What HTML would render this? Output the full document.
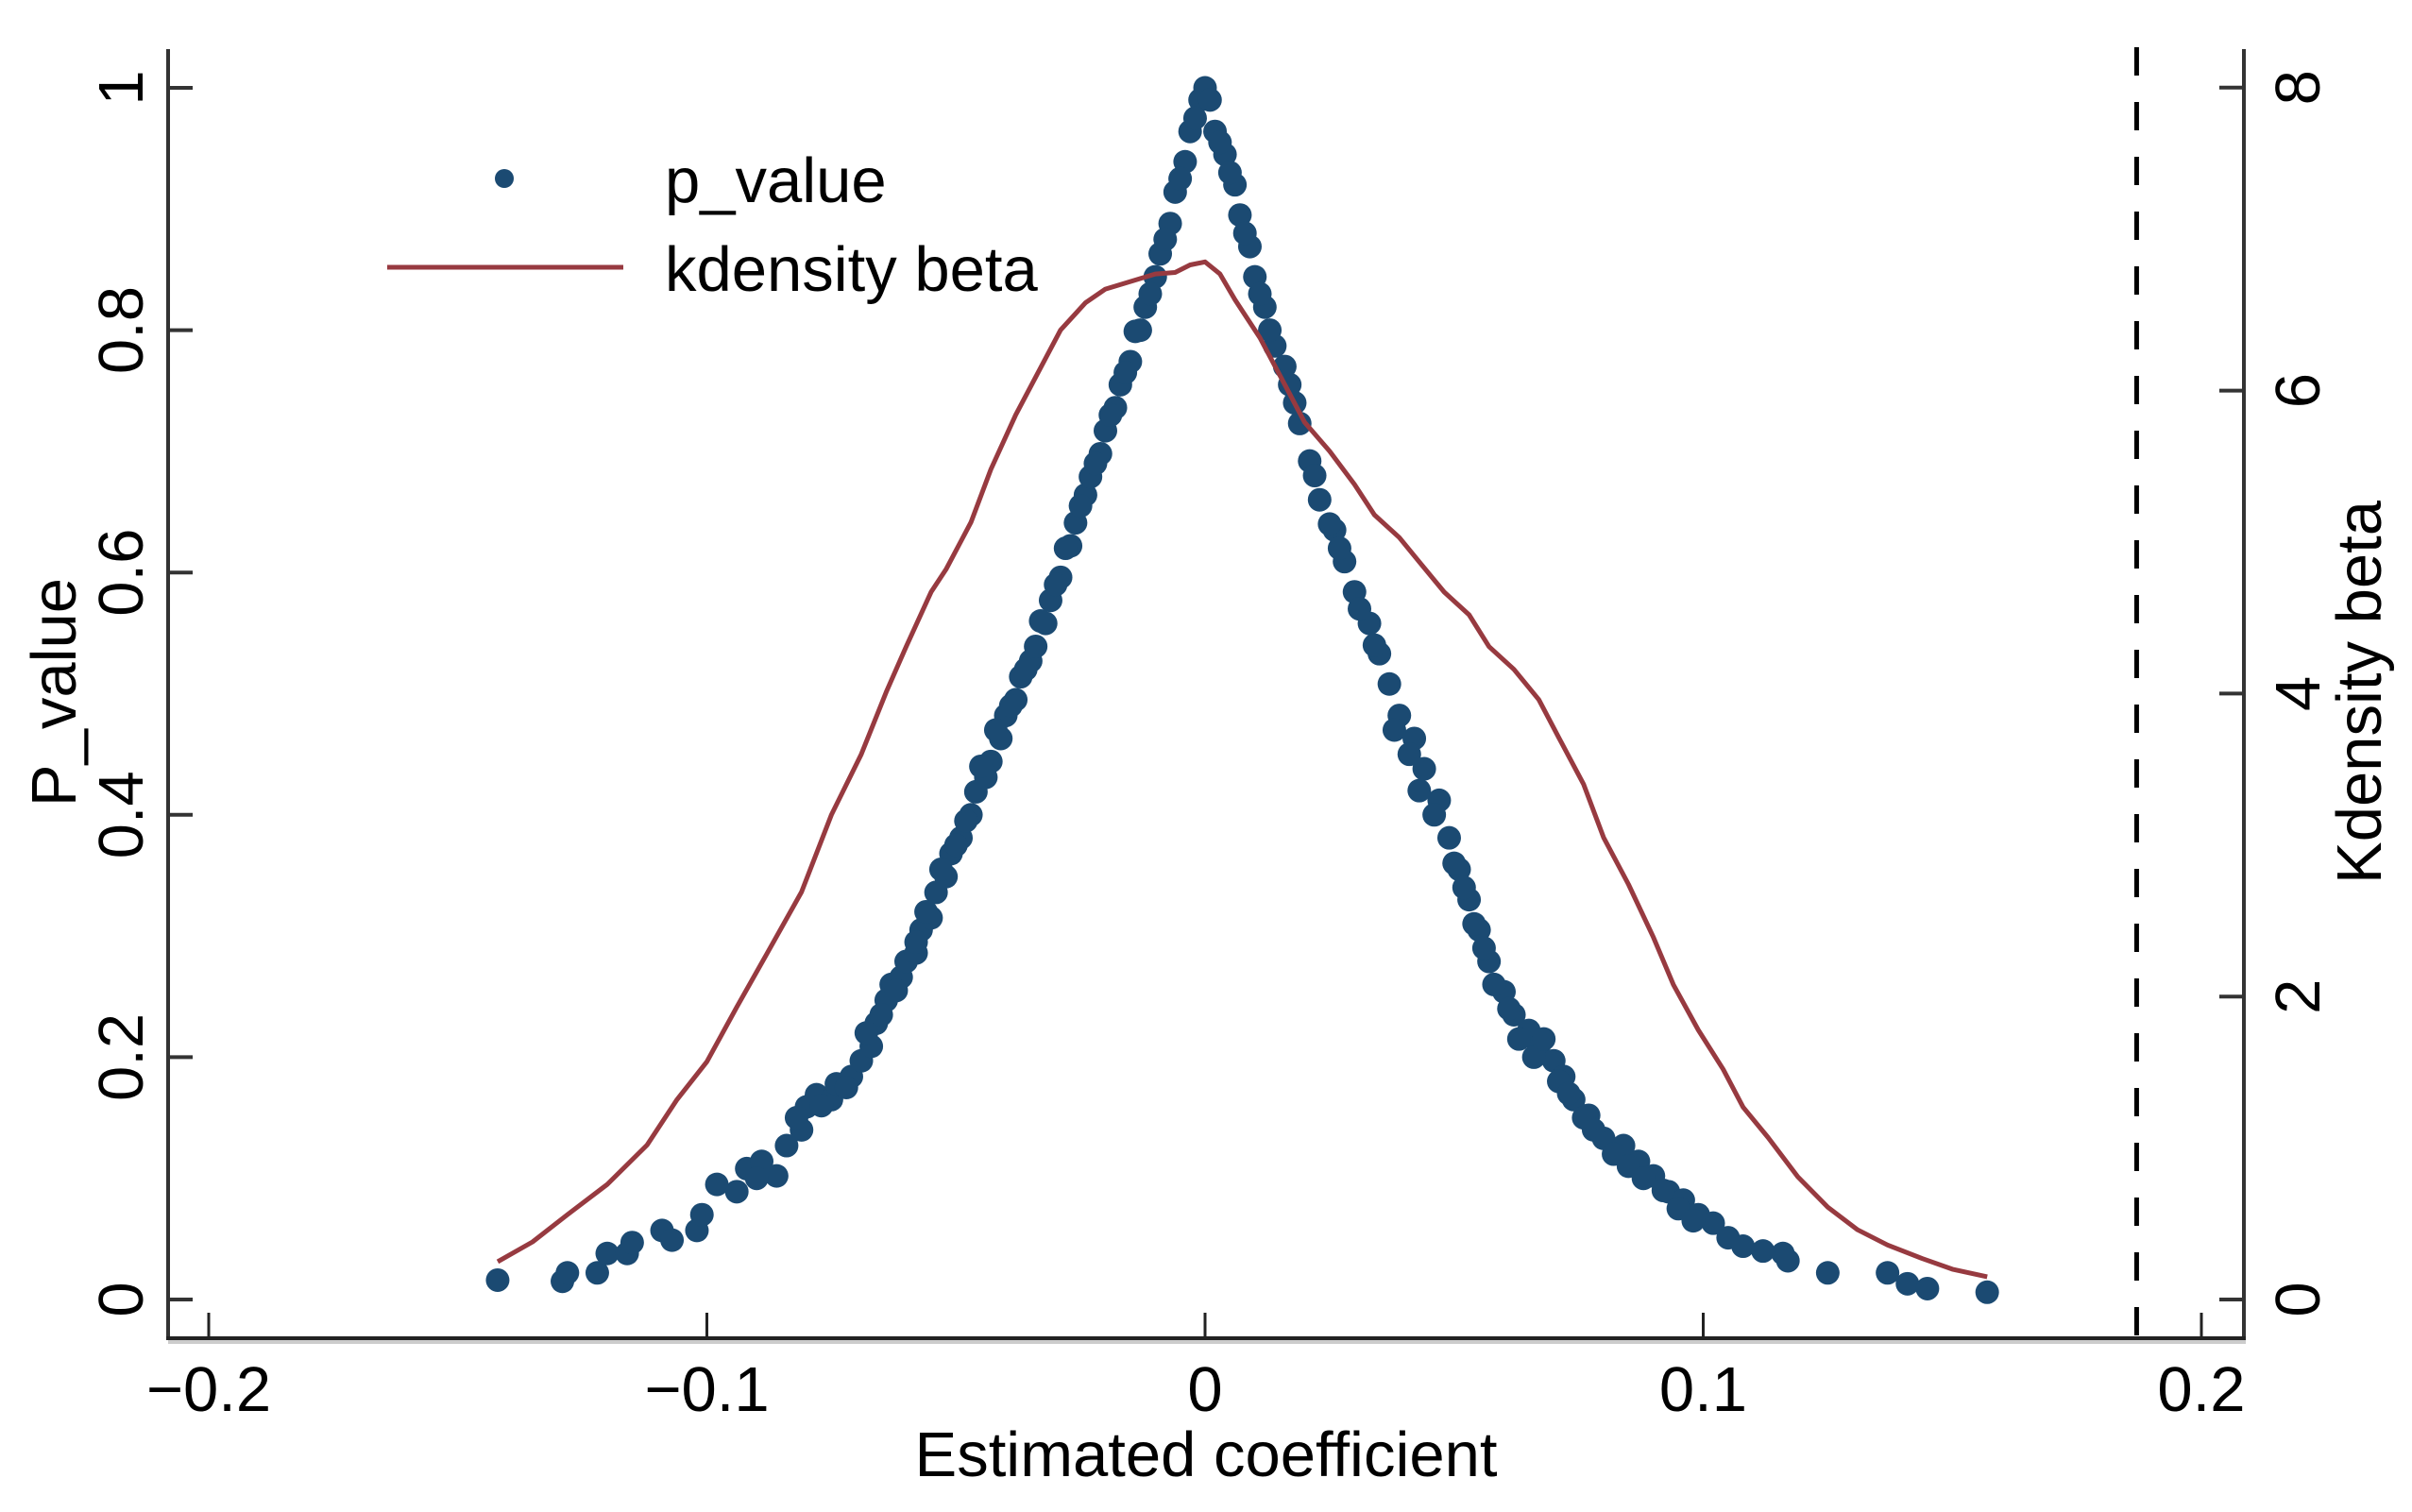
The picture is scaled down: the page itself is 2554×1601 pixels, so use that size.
<!DOCTYPE html>
<html><head><meta charset="utf-8"><style>
html,body{margin:0;padding:0;background:#fff;}
svg{display:block;font-family:"Liberation Sans",Arial,sans-serif;}
</style></head><body>
<svg id="chart" width="2554" height="1601" viewBox="0 0 2554 1601">
<g id="plot"></g>
</svg>
<script>
const xTicks=[-0.2,-0.1,0,0.1,0.2];
const xTickLabels=["\u22120.2","\u22120.1","0","0.1","0.2"];
const pTicks=[0,0.2,0.4,0.6,0.8,1];
const pTickLabels=["0","0.2","0.4","0.6","0.8","1"];
const dTicks=[0,2,4,6,8];
const dTickLabels=["0","2","4","6","8"];
const refLine=0.187;
const scatterX=[-0.142,-0.129,-0.128,-0.122,-0.120,-0.116,-0.115,-0.109,-0.107,-0.102,-0.101,-0.098,-0.094,-0.092,-0.089,-0.086,-0.084,-0.081,-0.080,-0.078,-0.075,-0.074,-0.071,-0.069,-0.067,-0.066,-0.064,-0.063,-0.061,-0.060,-0.058,-0.057,-0.055,-0.054,-0.052,-0.051,-0.049,-0.047,-0.046,-0.044,-0.043,-0.041,-0.040,-0.038,-0.037,-0.035,-0.034,-0.032,-0.031,-0.029,-0.027,-0.026,-0.024,-0.023,-0.021,-0.020,-0.018,-0.017,-0.015,-0.014,-0.012,-0.010,-0.009,-0.007,-0.006,-0.004,-0.003,-0.001,0.000,
0.001,0.002,0.004,0.006,0.007,0.009,0.010,0.012,0.014,0.017,0.019,0.021,0.023,0.026,0.028,0.030,0.033,0.035,0.037,0.039,0.042,0.044,0.047,0.049,0.051,0.053,0.055,0.057,0.060,0.062,0.065,0.067,0.070,0.072,0.074,0.077,0.080,0.084,0.087,0.090,0.093,0.096,0.099,0.102,0.105,0.108,0.116,0.117,0.125,0.137,0.141,0.145,0.157,
-0.090,-0.082,-0.077,-0.072,-0.068,-0.065,-0.062,-0.058,-0.056,-0.053,-0.050,-0.048,-0.045,-0.042,-0.039,-0.036,-0.033,-0.030,-0.028,-0.025,-0.022,-0.019,-0.016,-0.013,-0.011,-0.008,-0.005,-0.002,
0.003,0.005,0.008,0.011,0.013,0.016,0.018,0.022,0.025,0.027,0.031,0.034,0.038,0.041,0.043,0.046,0.050,0.052,0.054,0.056,0.058,0.061,0.063,0.066,0.068,0.071,0.073,0.076,0.078,0.082,0.085,0.088,0.092,0.095,0.098,0.112];
const scatterP=[0.016,0.015,0.022,0.022,0.038,0.038,0.047,0.057,0.049,0.057,0.070,0.095,0.089,0.108,0.114,0.102,0.127,0.140,0.159,0.169,0.165,0.178,0.184,0.197,0.209,0.228,0.247,0.260,0.266,0.279,0.286,0.305,0.315,0.336,0.349,0.368,0.381,0.400,0.419,0.431,0.444,0.463,0.482,0.495,0.514,0.527,0.539,0.558,0.577,0.596,0.622,0.641,0.664,0.679,0.698,0.717,0.736,0.755,0.774,0.799,0.819,0.844,0.863,0.888,0.914,0.939,0.964,0.990,1.000,
0.990,0.964,0.945,0.920,0.895,0.869,0.844,0.819,0.787,0.755,0.723,0.692,0.660,0.635,0.609,0.584,0.558,0.533,0.508,0.482,0.463,0.438,0.412,0.381,0.355,0.330,0.305,0.279,0.254,0.235,0.222,0.209,0.197,0.184,0.165,0.152,0.133,0.127,0.114,0.102,0.089,0.082,0.070,0.063,0.051,0.044,0.038,0.032,0.022,0.022,0.013,0.009,0.006,
0.100,0.150,0.160,0.175,0.220,0.235,0.255,0.295,0.320,0.355,0.375,0.395,0.440,0.470,0.490,0.520,0.560,0.590,0.620,0.655,0.690,0.730,0.765,0.800,0.830,0.875,0.925,0.975,
0.955,0.930,0.880,0.830,0.800,0.770,0.740,0.680,0.640,0.620,0.570,0.540,0.470,0.450,0.420,0.400,0.360,0.340,0.310,0.290,0.260,0.240,0.215,0.200,0.215,0.180,0.170,0.150,0.140,0.120,0.110,0.100,0.090,0.075,0.065,0.040];
const kdX=[-0.142,-0.135,-0.128,-0.120,-0.112,-0.106,-0.100,-0.094,-0.088,-0.081,-0.075,-0.069,-0.064,-0.060,-0.055,-0.052,-0.047,-0.043,-0.038,-0.034,-0.029,-0.024,-0.020,-0.015,-0.010,-0.006,-0.003,0,0.003,0.006,0.011,0.016,0.020,0.025,0.030,0.034,0.039,0.043,0.048,0.053,0.057,0.062,0.067,0.071,0.076,0.080,0.085,0.090,0.094,0.099,0.104,0.108,0.113,0.119,0.125,0.131,0.137,0.144,0.150,0.157];
const kdY=[0.25,0.38,0.56,0.76,1.02,1.32,1.57,1.93,2.28,2.69,3.20,3.60,4.01,4.31,4.67,4.82,5.13,5.48,5.84,6.09,6.40,6.58,6.67,6.72,6.77,6.78,6.83,6.85,6.77,6.60,6.35,6.04,5.79,5.60,5.38,5.18,5.03,4.87,4.67,4.52,4.31,4.16,3.96,3.71,3.40,3.05,2.74,2.39,2.08,1.78,1.52,1.27,1.07,0.81,0.61,0.46,0.36,0.27,0.20,0.15];

const X=c=>1276+c*5275;
const YP=p=>1376-p*1283;
const YD=d=>1376-d*160.4;
const NS="http://www.w3.org/2000/svg";
const g=document.getElementById('plot');
function mk(tag,attrs,parent){const e=document.createElementNS(NS,tag);for(const k in attrs)e.setAttribute(k,attrs[k]);(parent||g).appendChild(e);return e;}
const FS=67;
let e;
e=mk('line',{x1:178,y1:52,x2:178,y2:1419,stroke:'#333',"stroke-width":4});


e=mk('line',{x1:2376,y1:52,x2:2376,y2:1419,stroke:'#333',"stroke-width":4});


e=mk('line',{x1:178,y1:1421,x2:2378,y2:1421,stroke:'#ccc',"stroke-width":4});


e=mk('line',{x1:176,y1:1417,x2:2378,y2:1417,stroke:'#222',"stroke-width":4});



xTicks.forEach((v,i)=>{
  const t=mk('line',{x1:X(v),y1:1417,x2:X(v),y2:1390,stroke:'#222',"stroke-width":3});
  
  
  const l=mk('text',{x:X(v),y:1494,"font-size":FS,"text-anchor":"middle",fill:'#000'});
  l.textContent=xTickLabels[i];
  
  
});
pTicks.forEach((v,i)=>{
  const t=mk('line',{x1:178,y1:YP(v),x2:204,y2:YP(v),stroke:'#333',"stroke-width":4});
  
  
  const l=mk('text',{x:0,y:0,"font-size":FS,"text-anchor":"middle",fill:'#000',transform:`translate(151,${YP(v)}) rotate(-90)`});
  l.textContent=pTickLabels[i];
  
  
});
dTicks.forEach((v,i)=>{
  const t=mk('line',{x1:2350,y1:YD(v),x2:2376,y2:YD(v),stroke:'#333',"stroke-width":4});
  
  
  const l=mk('text',{x:0,y:0,"font-size":FS,"text-anchor":"middle",fill:'#000',transform:`translate(2456,${YD(v)}) rotate(-90)`});
  l.textContent=dTickLabels[i];
  
  
});

e=mk('line',{x1:X(refLine),y1:50,x2:X(refLine),y2:1417,stroke:'#000',"stroke-width":5,"stroke-dasharray":"30 28"});



scatterX.forEach((v,i)=>{
  const c=mk('circle',{cx:X(v),cy:YP(scatterP[i]),r:12.5,fill:'#1b4a72'});
  
  
});

const d=kdX.map((v,i)=>(i?'L':'M')+X(v).toFixed(1)+' '+YD(kdY[i]).toFixed(1)).join(' ');
e=mk('path',{d:d,fill:'none',stroke:'#973a40',"stroke-width":5,"stroke-linejoin":"round"});



e=mk('text',{x:1277,y:1563,"font-size":FS,"text-anchor":"middle",fill:'#000'});
e.textContent='Estimated coefficient';


e=mk('text',{x:0,y:0,"font-size":FS,"text-anchor":"middle",fill:'#000',transform:'translate(80,733) rotate(-90)'});
e.textContent='P_value';


e=mk('text',{x:0,y:0,"font-size":FS,"text-anchor":"middle",fill:'#000',transform:'translate(2521,733) rotate(-90)'});
e.textContent='Kdensity beta';



e=mk('circle',{cx:534,cy:189,r:10,fill:'#1b4a72'});


e=mk('text',{x:704,y:214,"font-size":FS,fill:'#000'});
e.textContent='p_value';


e=mk('line',{x1:410,y1:283,x2:660,y2:283,stroke:'#973a40',"stroke-width":5});


e=mk('text',{x:704,y:308,"font-size":FS,fill:'#000'});
e.textContent='kdensity beta';


</script>
</body></html>
